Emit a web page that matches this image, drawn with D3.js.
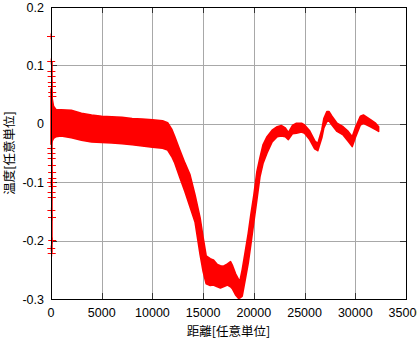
<!DOCTYPE html>
<html>
<head>
<meta charset="utf-8">
<script src="https://cdn.jsdelivr.net/npm/d3@7"></script>
<style>
  body { margin: 0; background: #fff; }
  svg { display: block; }
  .tick-label { font-family: "Liberation Sans", Arial, sans-serif; font-size: 12.5px; fill: #000; }
  .axis-title { font-family: "Noto Sans CJK JP", "Liberation Sans", sans-serif; font-size: 12.5px; fill: #000; }
</style>
</head>
<body>
<div class="chart"></div>
<script>
// distance samples and the top / bottom edge of the noisy band
var distance = [0, 100, 250, 500, 1000, 2000, 3000, 4000, 5000, 6000, 7000, 8000, 9000, 10000, 11000,
  11500, 11900, 12200, 12700, 13200, 13700, 14200, 14700, 15000, 15300, 15700, 16000, 16400, 16700,
  17000, 17400, 17700, 17900, 18200, 18500, 18650, 18850, 19150, 19450, 19700, 20000, 20300, 20600,
  20900, 21300, 21800, 22300, 22700, 23100, 23400, 23800, 24200, 24700, 25000, 25500, 26000, 26300,
  26700, 26900, 27200, 27400, 27700, 28200, 28800, 29300, 29700, 30000, 30500, 30800, 31500, 32000, 32300];
var bandTop = [0.06, 0.045, 0.03, 0.024, 0.024, 0.023, 0.018, 0.015, 0.013, 0.012, 0.011, 0.009, 0.008, 0.007, 0.005,
  0.002, -0.009, -0.022, -0.045, -0.067, -0.087, -0.122, -0.161, -0.195, -0.226, -0.231, -0.233, -0.241, -0.243,
  -0.244, -0.240, -0.236, -0.243, -0.257, -0.267, -0.267, -0.250, -0.219, -0.187, -0.156, -0.122, -0.082, -0.058,
  -0.036, -0.022, -0.011, -0.005, -0.003, -0.007, -0.015, -0.003, 0.001, 0.001, -0.002, -0.012, -0.029, -0.034,
  -0.010, 0.009, 0.021, 0.021, 0.013, 0.001, -0.005, -0.013, -0.022, -0.007, 0.013, 0.015, 0.007, 0.001, -0.005];
var bandBottom = [-0.035, -0.03, -0.025, -0.022, -0.021, -0.024, -0.028, -0.031, -0.032, -0.033, -0.034, -0.036, -0.038, -0.040, -0.042,
  -0.045, -0.056, -0.067, -0.092, -0.116, -0.142, -0.168, -0.224, -0.253, -0.274, -0.277, -0.276, -0.279, -0.281,
  -0.279, -0.276, -0.279, -0.283, -0.293, -0.299, -0.298, -0.295, -0.267, -0.238, -0.207, -0.168, -0.130, -0.091,
  -0.068, -0.050, -0.031, -0.022, -0.021, -0.022, -0.027, -0.017, -0.016, -0.014, -0.016, -0.027, -0.043, -0.046,
  -0.024, -0.007, 0.004, 0.005, -0.002, -0.013, -0.019, -0.030, -0.039, -0.024, -0.002, 0.001, -0.005, -0.010, -0.013];

// lone points at the very start
var spikeX = [0, 20, 40, 60, 80, 100, 120, 140, 30, 50, 70, 90, 110, 130, 10, 150, 60, 80, 40, 100, 120, 20, 70];
var spikeY = [0.15, 0.107, 0.09, 0.081, 0.072, 0.064, 0.055, 0.047, -0.042, -0.05, -0.059, -0.07, -0.082, -0.093,
  -0.099, -0.107, -0.116, -0.125, -0.147, -0.159, -0.199, -0.213, -0.221];

var xTicks = [0, 5000, 10000, 15000, 20000, 25000, 30000, 35000];
var xTickLabels = ["0", "5000", "10000", "15000", "20000", "25000", "30000", "35000"];
var yTicks = [0.2, 0.1, 0, -0.1, -0.2, -0.3];
var yTickLabels = ["0.2", "0.1", "0", "-0.1", "-0.2", "-0.3"];

var W = 417, H = 339;
var pLeft = 51, pRight = 406, pTop = 7, pBottom = 299;

var svg = d3.select('.chart').append('svg')
  .attr('width', W)
  .attr('height', H);

var x = d3.scaleLinear().domain([0, 35000]).range([pLeft, pRight]);
var y = d3.scaleLinear().domain([-0.3, 0.2]).range([pBottom, pTop]);

// grid
svg.append('g').selectAll('line')
  .data(xTicks.slice(1, -1)).enter().append('line')
  .attr('x1', function(d) { return Math.round(x(d)) + 0.5; })
  .attr('x2', function(d) { return Math.round(x(d)) + 0.5; })
  .attr('y1', pTop).attr('y2', pBottom)
  .attr('stroke', '#a8a8a8').attr('stroke-width', 1);
svg.append('g').selectAll('line')
  .data(yTicks.slice(1, -1)).enter().append('line')
  .attr('y1', function(d) { return Math.round(y(d)) + 0.5; })
  .attr('y2', function(d) { return Math.round(y(d)) + 0.5; })
  .attr('x1', pLeft).attr('x2', pRight)
  .attr('stroke', '#a8a8a8').attr('stroke-width', 1);

// ticks pointing inwards, on all four sides
var tk = 6;
var tickG = svg.append('g').attr('stroke', '#333').attr('stroke-width', 1);
xTicks.forEach(function(d) {
  var px = Math.round(x(d)) + 0.5;
  tickG.append('line').attr('x1', px).attr('x2', px).attr('y1', pBottom).attr('y2', pBottom - tk);
  tickG.append('line').attr('x1', px).attr('x2', px).attr('y1', pTop).attr('y2', pTop + tk);
});
yTicks.forEach(function(d) {
  var py = Math.round(y(d)) + 0.5;
  tickG.append('line').attr('y1', py).attr('y2', py).attr('x1', pLeft).attr('x2', pLeft + tk);
  tickG.append('line').attr('y1', py).attr('y2', py).attr('x1', pRight).attr('x2', pRight - tk);
});

// data band
var rows = distance.map(function(d, i) { return { x: d, hi: bandTop[i], lo: bandBottom[i] }; });
var area = d3.area()
  .x(function(d) { return x(d.x); })
  .y0(function(d) { return y(d.lo); })
  .y1(function(d) { return y(d.hi); });
svg.append('path')
  .datum(rows)
  .attr('d', area)
  .attr('fill', '#ff0000')
  .attr('stroke', '#ff0000')
  .attr('stroke-width', 1.6)
  .attr('stroke-linejoin', 'round');

// "+" markers for the scattered first points
var spikes = svg.append('g').attr('stroke', '#ff0000').attr('stroke-width', 1);
spikeX.forEach(function(d, i) {
  var cx = x(d), cy = Math.round(y(spikeY[i])) + 0.5;
  spikes.append('line').attr('x1', cx - 4).attr('x2', cx + 4).attr('y1', cy).attr('y2', cy);
  spikes.append('line').attr('x1', cx).attr('x2', cx).attr('y1', cy - 3).attr('y2', cy + 3);
});
// thin dense column at x=0
svg.append('line')
  .attr('x1', x(0) + 1).attr('x2', x(0) + 1)
  .attr('y1', y(0.107)).attr('y2', y(-0.221))
  .attr('stroke', '#ff0000').attr('stroke-width', 1.5);

// border
svg.append('rect')
  .attr('x', pLeft + 0.5).attr('y', pTop + 0.5)
  .attr('width', pRight - pLeft).attr('height', pBottom - pTop)
  .attr('fill', 'none').attr('stroke', '#000').attr('stroke-width', 1);

// tick labels
svg.append('g').selectAll('text')
  .data(xTicks).enter().append('text')
  .attr('class', 'tick-label')
  .attr('x', function(d) { return x(d); })
  .attr('y', pBottom + 18)
  .attr('text-anchor', 'middle')
  .text(function(d, i) { return xTickLabels[i]; });
svg.append('g').selectAll('text')
  .data(yTicks).enter().append('text')
  .attr('class', 'tick-label')
  .attr('x', pLeft - 7)
  .attr('y', function(d) { return y(d) + 4.5; })
  .attr('text-anchor', 'end')
  .text(function(d, i) { return yTickLabels[i]; });

// axis titles
svg.append('text')
  .attr('class', 'axis-title')
  .attr('x', (pLeft + pRight) / 2)
  .attr('y', 336)
  .attr('text-anchor', 'middle')
  .text('距離[任意単位]');
svg.append('text')
  .attr('class', 'axis-title')
  .attr('transform', 'translate(14,' + ((pTop + pBottom) / 2) + ') rotate(-90)')
  .attr('text-anchor', 'middle')
  .text('温度[任意単位]');
</script>
</body>
</html>
